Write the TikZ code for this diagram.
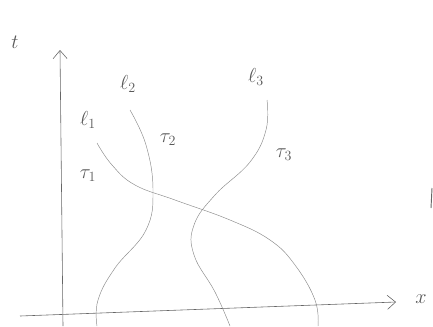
\documentclass[tikz,border=0pt]{standalone}
\usetikzlibrary{arrows.meta}
\begin{document}
\begin{tikzpicture}[x=0.03cm, y=-0.03cm,
    axis/.style={draw=black!60, line width=0.5pt, -{Straight Barb[length=7pt, width=12pt]}},
    wave/.style={draw=black!45, line width=0.4pt},
    lbl/.style={text=black!65, font=\LARGE, inner sep=1pt},
  ]
    \useasboundingbox (0,0) rectangle (433,326);

    % Axes
    \coordinate (o)  at (63,326);
    \coordinate (ot) at (60,50);
    \coordinate (xl) at (20,316);
    \coordinate (xr) at (396,302);
    \draw[axis] (o) -- (ot);
    \draw[axis] (xl) -- (xr);
    \node[lbl] (t) at (15,42) {$t$};
    \node[lbl] (x) at (421,299) {$x$};

    % Characteristics
    \draw[wave] plot[smooth, tension=0.7] coordinates
      {(97,143) (112,165) (135,185) (175,200) (230,220) (270,240) (295,265) (315,300) (318,326)};
    \draw[wave] plot[smooth, tension=0.7] coordinates
      {(130,110) (146,145) (153,190) (146,230) (115,268) (98,300) (97,326)};
    \draw[wave] plot[smooth, tension=0.7] coordinates
      {(267,100) (266,130) (250,162) (215,195) (194,225) (194,255) (215,292) (230,326)};

    % Labels
    \node[lbl] (l1) at (88,120) {$\ell_1$};
    \node[lbl] (c1) at (88,176) {$\tau_1$};
    \node[lbl] (l2) at (128,84) {$\ell_2$};
    \node[lbl] (c2) at (168,140) {$\tau_2$};
    \node[lbl] (l3) at (256,77) {$\ell_3$};
    \node[lbl] (c3) at (284,155) {$\tau_3$};

    % Stray mark at the edge
    \draw[draw=black!60, line width=0.8pt] (432,188) -- (431,208);
  \end{tikzpicture}
\end{document}
